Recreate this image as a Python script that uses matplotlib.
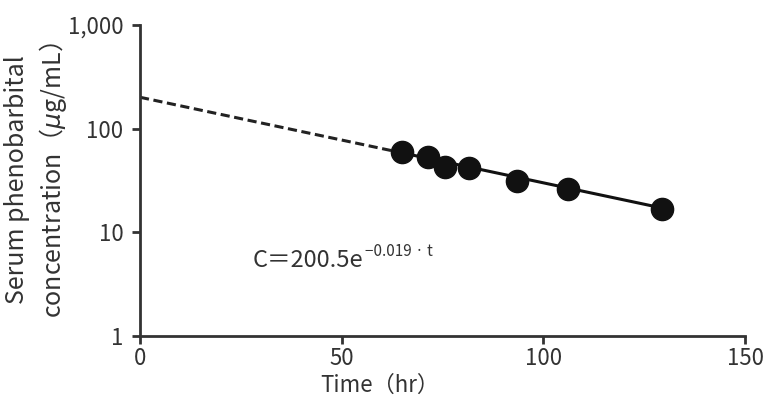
import numpy as np
import matplotlib
matplotlib.use('Agg')
import matplotlib.pyplot as plt

plt.rcParams['font.family'] = ['Noto Sans CJK KR', 'DejaVu Sans']

# measured serum levels
time_hr = [65, 71.5, 75.5, 81.5, 93.5, 106, 129.5]
conc = [59.5, 53.5, 42.5, 41.5, 31.5, 26, 16.8]

# fitted model C = A * exp(-k t)
A = 200.5
k = 0.019
t_dash = np.array([0, 63])
t_solid = np.array([65, 129.5])

x_ticks = [0, 50, 100, 150]
y_ticks = [1, 10, 100, 1000]
y_ticklabels = ['1', '10', '100', '1,000']

ink = '#333333'

fig = plt.figure(figsize=(7.67, 4.01), dpi=100)
ax = fig.add_axes([0.1825, 0.162, 0.789, 0.776])

ax.plot(t_dash, A * np.exp(-k * t_dash), ls=(0, (3, 1.5)), color='#222222', lw=2.2)
ax.plot(t_solid, A * np.exp(-k * t_solid), ls='-', color='#111111', lw=2.2)
ax.plot(time_hr, conc, 'o', color='#111111', ms=16, zorder=3)

ax.set_yscale('log')
ax.set_xlim(0, 150)
ax.set_ylim(1, 1000)
ax.set_xticks(x_ticks)
ax.set_yticks(y_ticks)
ax.set_yticklabels(y_ticklabels)
ax.minorticks_off()

for s in ['top', 'right']:
    ax.spines[s].set_visible(False)
for s in ['left', 'bottom']:
    ax.spines[s].set_color(ink)
    ax.spines[s].set_linewidth(2)
ax.tick_params(colors=ink, labelsize=16, width=2, length=6, pad=6)
ax.tick_params(axis='x', pad=2)

ax.set_xlabel('Time（hr）', fontsize=16, color=ink, labelpad=0)
ax.xaxis.set_label_coords(0.397, -0.122)
fig.text(36.5 / 767, 1 - 180 / 401,
         'Serum phenobarbital\nconcentration（$\\mu$g/mL）', fontsize=18,
         color=ink, rotation=90, ha='center', va='center', multialignment='center',
         linespacing=1.3)

# equation label with superscript exponent
eq = ax.text(28, 4.6, 'C＝200.5e', fontsize=17, color=ink)
fig.canvas.draw()
bb = eq.get_window_extent()
x0, y0 = fig.transFigure.inverted().transform((bb.x1 + 1, bb.y1 - 7))
fig.text(x0, y0, '−0.019 · t', fontsize=11, color=ink)

fig.savefig('out.png', dpi=100)
